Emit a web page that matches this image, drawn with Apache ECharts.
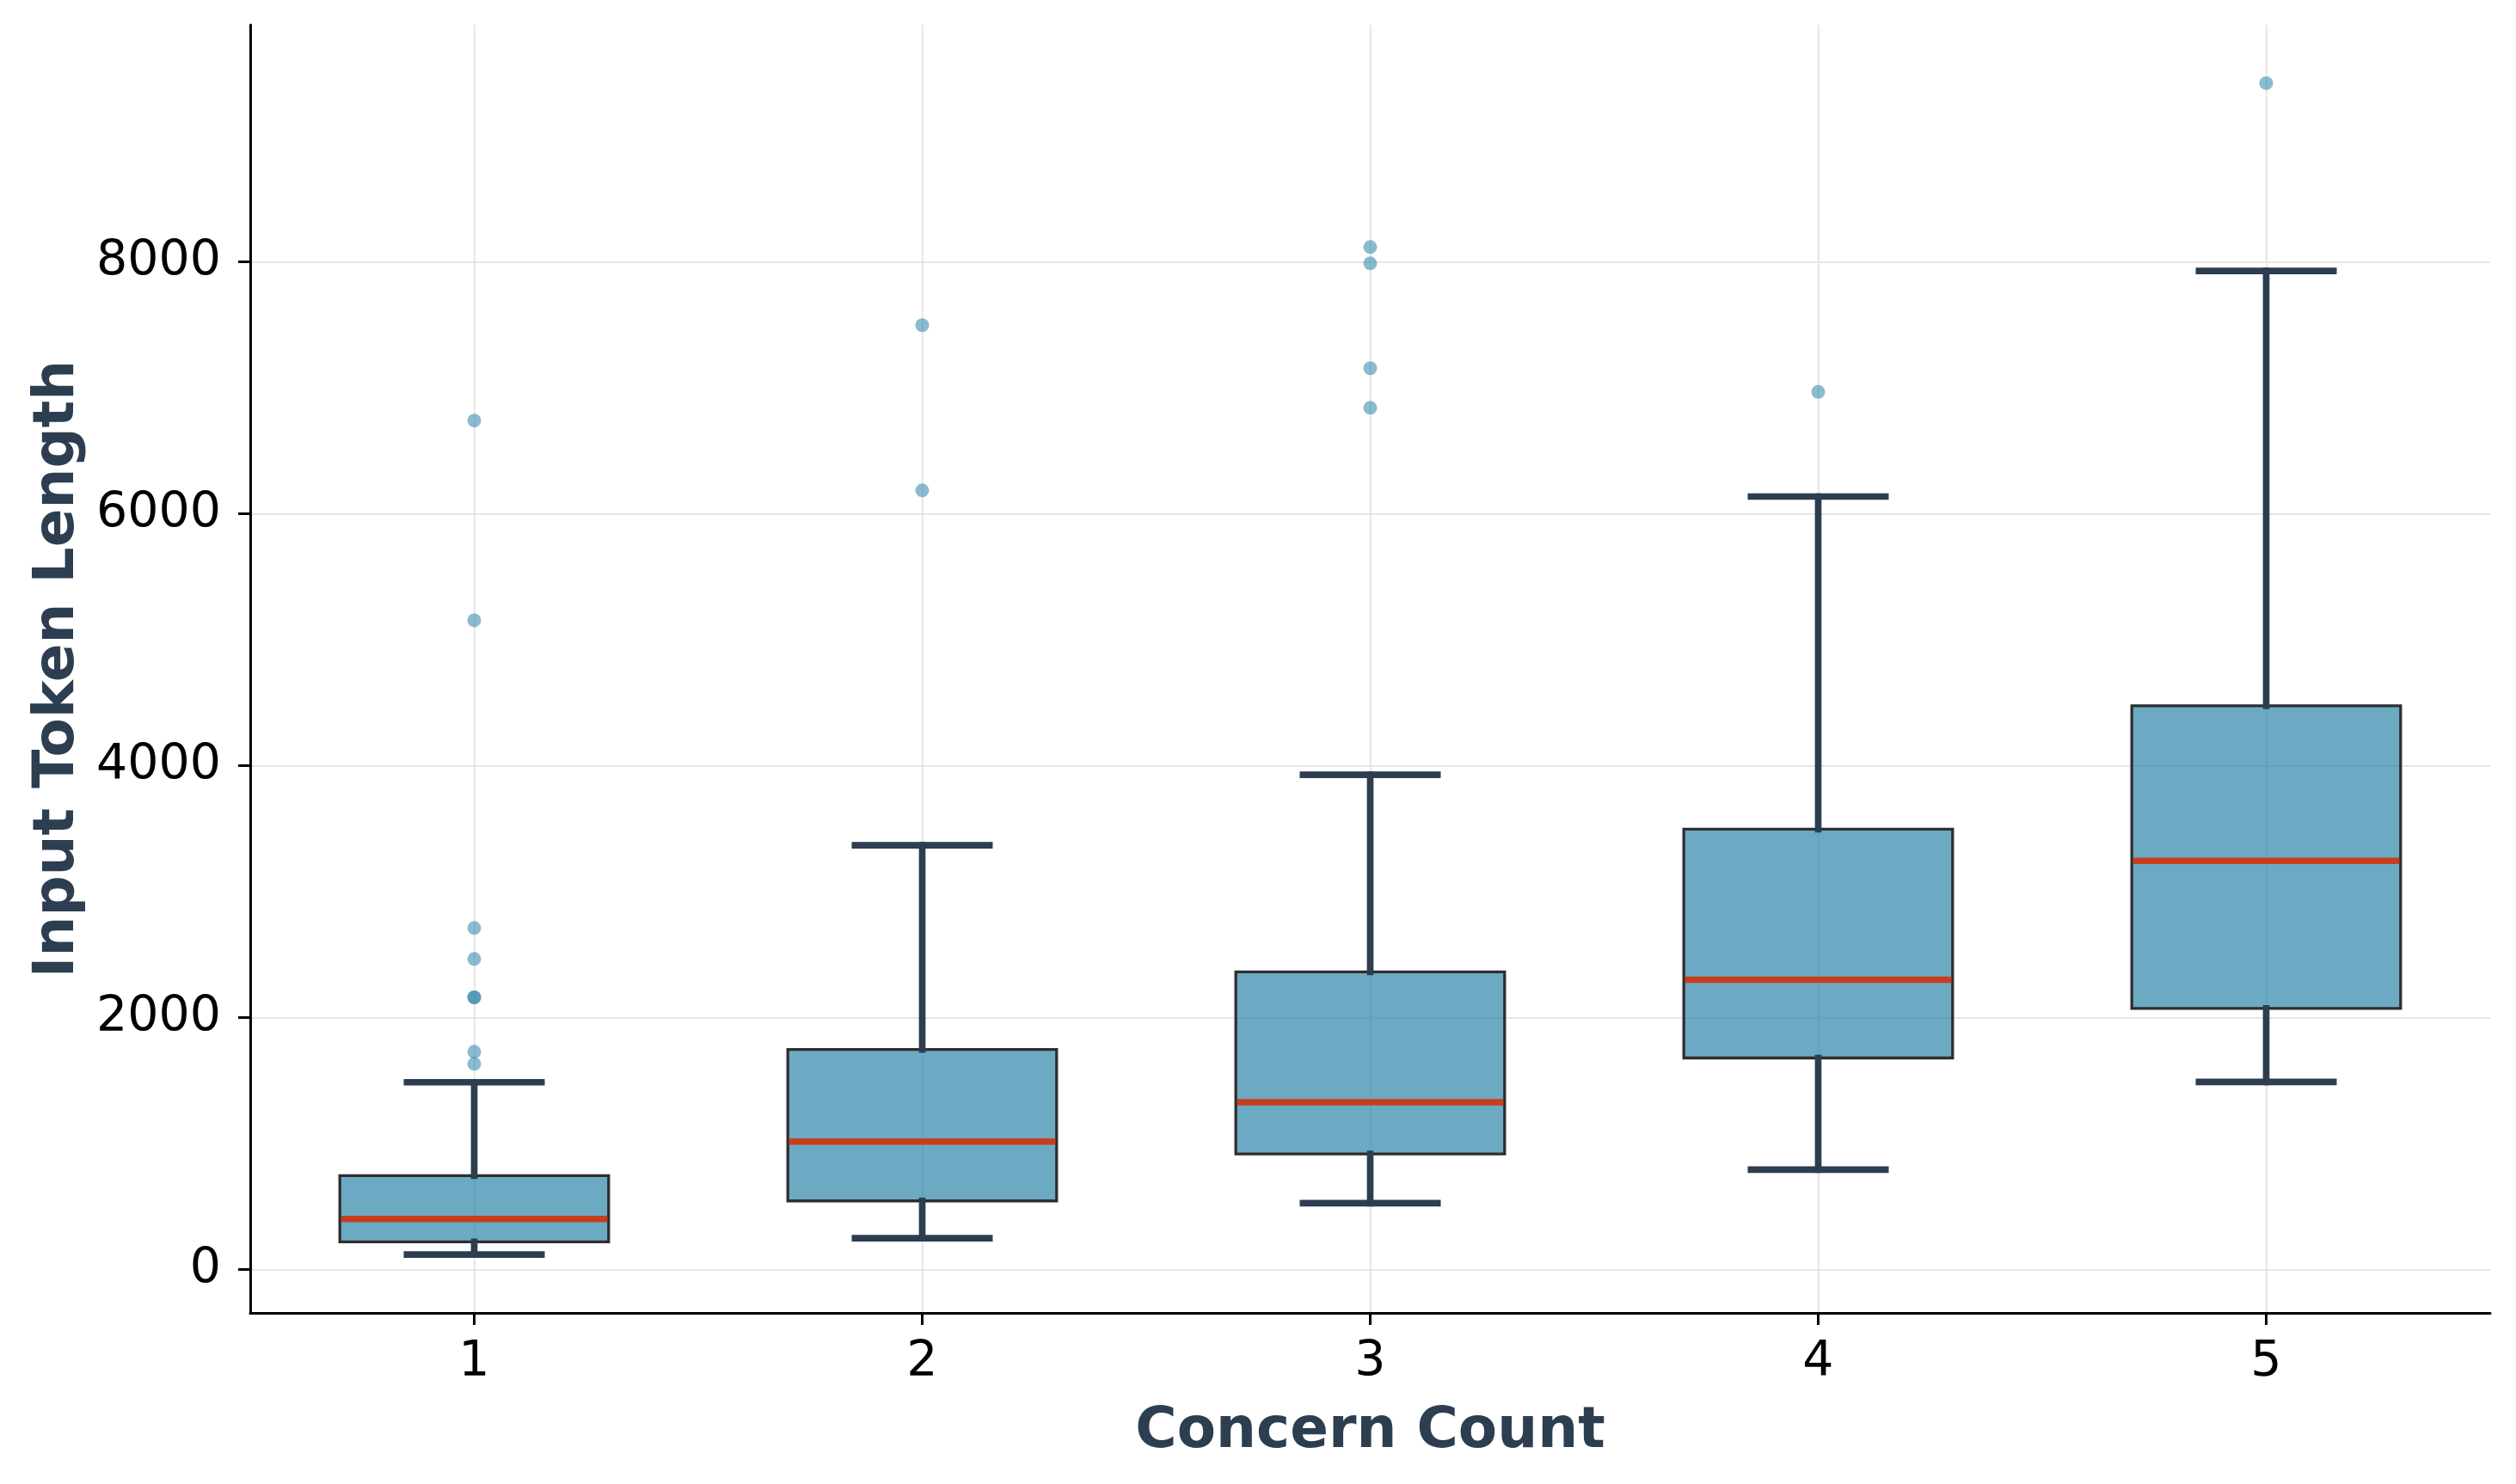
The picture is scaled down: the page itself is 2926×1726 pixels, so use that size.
<!DOCTYPE html>
<html>
<head>
<meta charset="utf-8">
<script src="https://cdn.jsdelivr.net/npm/echarts@6/dist/echarts.min.js"></script>
<style>
html,body{margin:0;padding:0;background:#fff;}
#chart{width:2926px;height:1726px;}
</style>
</head>
<body>
<div id="chart"></div>
<script>
// ---- data ----
const categories = [1, 2, 3, 4, 5];
const xTickLabels = ['1', '2', '3', '4', '5'];
const yTickValues = [0, 2000, 4000, 6000, 8000];
const lowerWhisker = [120, 250, 528, 795, 1491];
const q1 = [221, 546, 919, 1681, 2074];
const median = [403, 1017, 1330, 2302, 3245];
const q3 = [747, 1748, 2364, 3498, 4477];
const upperWhisker = [1488, 3370, 3929, 6138, 7929];
const outliers1 = [1634, 1730, 2162, 2162, 2467, 2713, 5156, 6741];
const outliers2 = [6187, 7498];
const outliers3 = [6842, 7157, 7989, 8119];
const outliers4 = [6969];
const outliers5 = [9420];
const outlierGroups = [outliers1, outliers2, outliers3, outliers4, outliers5];

// ---- styling ----
const BOX_W = 0.6, CAP_W = 0.3;
const WHISKER_COLOR = '#2c3e50';
const MEDIAN_COLOR = '#C73E1D';
const BOX_FILL = 'rgba(46,134,171,0.7)';
const BOX_EDGE = '#2e2e2e';
const FONT = 'DejaVu Sans';

const boxData = categories.map((c, i) => [c, lowerWhisker[i], q1[i], median[i], q3[i], upperWhisker[i]]);
const outlierData = [];
outlierGroups.forEach((g, i) => g.forEach(v => outlierData.push([categories[i], v])));

const chart = echarts.init(document.getElementById('chart'), null, {renderer: 'canvas'});
chart.setOption({
  animation: false,
  backgroundColor: '#ffffff',
  grid: {left: 291, right: 30, top: 29, bottom: 199, containLabel: false},
  xAxis: {
    type: 'value', min: 0.5, max: 5.5,
    name: 'Concern Count', nameLocation: 'middle', nameGap: 106,
    nameTextStyle: {fontFamily: FONT, fontWeight: 'bold', fontSize: 66, color: '#2c3e50'},
    axisLine: {show: true, onZero: false, lineStyle: {color: '#000', width: 3}},
    axisTick: {show: true, length: 14, lineStyle: {color: '#000', width: 3}, customValues: categories},
    axisLabel: {show: true, margin: 30, fontFamily: FONT, fontSize: 57, color: '#000',
      customValues: categories, formatter: v => xTickLabels[categories.indexOf(v)]},
    splitLine: {show: true, lineStyle: {color: '#e7e7e7', width: 2}}
  },
  yAxis: {
    type: 'value', min: -343, max: 9882,
    name: 'Input Token Length', nameLocation: 'middle', nameGap: 190,
    nameTextStyle: {fontFamily: FONT, fontWeight: 'bold', fontSize: 66, color: '#2c3e50'},
    axisLine: {show: true, onZero: false, lineStyle: {color: '#000', width: 3}},
    axisTick: {show: true, length: 14, lineStyle: {color: '#000', width: 3}, customValues: yTickValues},
    axisLabel: {show: true, margin: 34, fontFamily: FONT, fontSize: 57, color: '#000',
      customValues: yTickValues, formatter: v => String(v)},
    splitLine: {show: true, lineStyle: {color: '#e7e7e7', width: 2}}
  },
  series: [
    {
      type: 'custom',
      data: boxData,
      encode: {x: 0, y: [1, 2, 3, 4, 5]},
      z: 3,
      renderItem: function (params, api) {
        const x = api.value(0);
        const lo = api.value(1), a = api.value(2), m = api.value(3), b = api.value(4), hi = api.value(5);
        const pLo = api.coord([x, lo]);
        const pQ1 = api.coord([x, a]);
        const pMed = api.coord([x, m]);
        const pQ3 = api.coord([x, b]);
        const pHi = api.coord([x, hi]);
        const left = api.coord([x - BOX_W / 2, a])[0];
        const right = api.coord([x + BOX_W / 2, a])[0];
        const capL = api.coord([x - CAP_W / 2, a])[0];
        const capR = api.coord([x + CAP_W / 2, a])[0];
        const cx = pMed[0];
        const wStyle = {stroke: WHISKER_COLOR, lineWidth: 7.7, lineCap: 'square'};
        return {
          type: 'group',
          children: [
            {type: 'rect', shape: {x: left, y: pQ3[1], width: right - left, height: pQ1[1] - pQ3[1]},
              style: {fill: BOX_FILL, stroke: BOX_EDGE, lineWidth: 3.3}},
            {type: 'line', shape: {x1: cx, y1: pQ1[1], x2: cx, y2: pLo[1]}, style: wStyle},
            {type: 'line', shape: {x1: cx, y1: pQ3[1], x2: cx, y2: pHi[1]}, style: wStyle},
            {type: 'line', shape: {x1: capL, y1: pLo[1], x2: capR, y2: pLo[1]}, style: wStyle},
            {type: 'line', shape: {x1: capL, y1: pHi[1], x2: capR, y2: pHi[1]}, style: wStyle},
            {type: 'line', shape: {x1: left + 1.5, y1: pMed[1], x2: right - 1.5, y2: pMed[1]},
              style: {stroke: MEDIAN_COLOR, lineWidth: 7.5, lineCap: 'butt'}}
          ]
        };
      }
    },
    {
      type: 'scatter',
      data: outlierData,
      symbol: 'circle',
      symbolSize: 16,
      z: 4,
      itemStyle: {color: 'rgba(46,134,171,0.7)', borderWidth: 0}
    }
  ]
});
</script>
</body>
</html>
